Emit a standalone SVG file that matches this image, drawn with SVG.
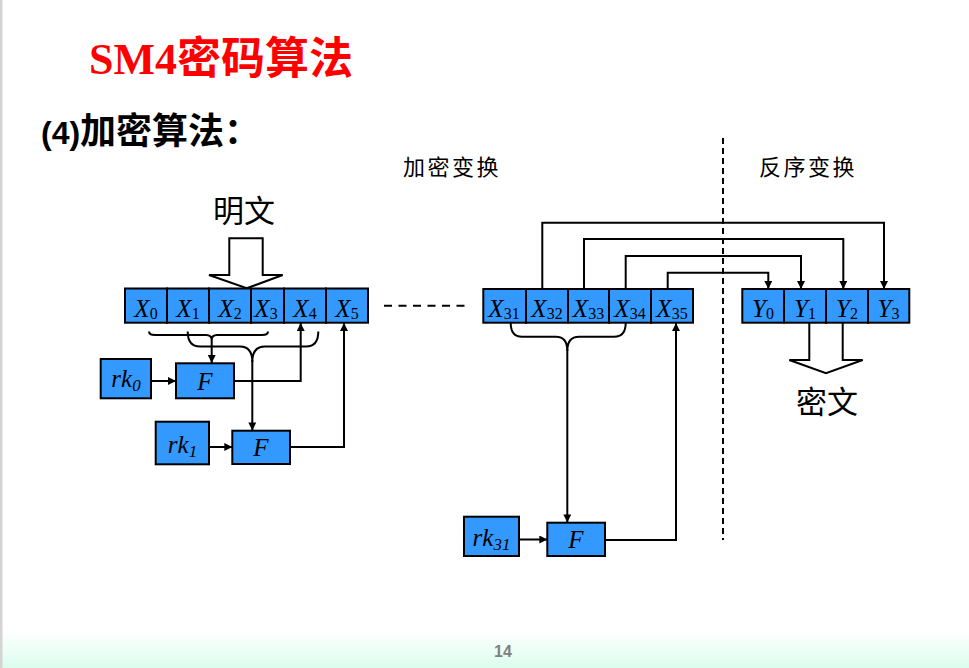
<svg xmlns="http://www.w3.org/2000/svg" width="969" height="668" viewBox="0 0 969 668">
<defs>
<linearGradient id="bg" x1="0" y1="0" x2="0" y2="1">
<stop offset="0" stop-color="#ffffff"/>
<stop offset="1" stop-color="#dcfdee"/>
</linearGradient>
<marker id="ah" viewBox="0 0 10 10" refX="10" refY="5" markerWidth="9" markerHeight="8" markerUnits="userSpaceOnUse" orient="auto">
<path d="M0,0 L10,5 L0,10 z" fill="#000"/>
</marker>
<style>
.cell{fill:#3399ff;stroke:#000;stroke-width:2}
.box{fill:#3399ff;stroke:#000;stroke-width:2}
.mt{font-family:"Liberation Serif",serif;font-style:italic;font-size:25px;fill:#000}
.sub{font-style:normal;font-size:16px}
.cn{font-family:"Noto Sans CJK SC","Noto Sans",sans-serif;fill:#000}
.ln{fill:none;stroke:#000;stroke-width:2}
.arr{fill:none;stroke:#000;stroke-width:2;marker-end:url(#ah)}
.hollow{fill:#fff;stroke:#000;stroke-width:2;stroke-linejoin:miter}
</style>
</defs>
<rect x="0" y="0" width="969" height="668" fill="#fff"/>
<rect x="0" y="630" width="969" height="38" fill="url(#bg)"/>
<rect x="0" y="0" width="2.5" height="668" fill="#d4d4d4"/>

<text x="89" y="74" font-family="Liberation Serif,'Noto Sans CJK SC',serif" font-weight="bold" font-size="44" fill="#ff0000">SM4密码算法</text>
<text x="41" y="144" font-family="Liberation Sans,'Noto Sans CJK SC',sans-serif" font-weight="bold" font-size="32" fill="#000">(4)<tspan font-size="36">加密算法：</tspan></text>
<text x="452" y="175" class="cn" font-size="22" letter-spacing="2.5" text-anchor="middle">加密变换</text>
<text x="808" y="175" class="cn" font-size="22" letter-spacing="2.5" text-anchor="middle">反序变换</text>

<line x1="723" y1="138" x2="723" y2="540" stroke="#000" stroke-width="2" stroke-dasharray="6 4"/>
<line x1="384" y1="305.7" x2="466" y2="305.7" stroke="#000" stroke-width="2" stroke-dasharray="8 6.5"/>

<g id="plaintext">
<text x="244" y="222" class="cn" font-size="31" text-anchor="middle">明文</text>
<polygon class="hollow" points="229.3,238.3 262.7,238.3 262.7,275 282.7,275 246.7,288.3 209,275 229.3,275"/>
</g>

<g id="ciphertext">
<path class="hollow" d="M809.3,322.7 V360 H789.3 L826,373.3 L862.7,360 H842.7 V322.7"/>
<text x="827" y="413" class="cn" font-size="31" text-anchor="middle">密文</text>
</g>

<g id="regX-left">
<rect class="cell" x="125" y="288.5" width="42" height="34.2"/>
<rect class="cell" x="167" y="288.5" width="42" height="34.2"/>
<rect class="cell" x="209" y="288.5" width="42" height="34.2"/>
<rect class="cell" x="251" y="288.5" width="33" height="34.2"/>
<rect class="cell" x="284" y="288.5" width="42" height="34.2"/>
<rect class="cell" x="326" y="288.5" width="42" height="34.2"/>
<text class="mt" x="146" y="317" text-anchor="middle">X<tspan class="sub" dy="2">0</tspan></text>
<text class="mt" x="188" y="317" text-anchor="middle">X<tspan class="sub" dy="2">1</tspan></text>
<text class="mt" x="230" y="317" text-anchor="middle">X<tspan class="sub" dy="2">2</tspan></text>
<text class="mt" x="266" y="317" text-anchor="middle">X<tspan class="sub" dy="2">3</tspan></text>
<text class="mt" x="305" y="317" text-anchor="middle">X<tspan class="sub" dy="2">4</tspan></text>
<text class="mt" x="347" y="317" text-anchor="middle">X<tspan class="sub" dy="2">5</tspan></text>
</g>

<g id="regX-right">
<rect class="cell" x="483.3" y="289" width="42.7" height="33.7"/>
<rect class="cell" x="526" y="289" width="42" height="33.7"/>
<rect class="cell" x="568" y="289" width="41" height="33.7"/>
<rect class="cell" x="609" y="289" width="42" height="33.7"/>
<rect class="cell" x="651" y="289" width="42" height="33.7"/>
<text class="mt" x="504" y="317" text-anchor="middle">X<tspan class="sub" dy="2">31</tspan></text>
<text class="mt" x="547" y="317" text-anchor="middle">X<tspan class="sub" dy="2">32</tspan></text>
<text class="mt" x="588.5" y="317" text-anchor="middle">X<tspan class="sub" dy="2">33</tspan></text>
<text class="mt" x="630" y="317" text-anchor="middle">X<tspan class="sub" dy="2">34</tspan></text>
<text class="mt" x="672" y="317" text-anchor="middle">X<tspan class="sub" dy="2">35</tspan></text>
</g>

<g id="regY">
<rect class="cell" x="742.3" y="289" width="41.7" height="33.7"/>
<rect class="cell" x="784" y="289" width="42" height="33.7"/>
<rect class="cell" x="826" y="289" width="42" height="33.7"/>
<rect class="cell" x="868" y="289" width="41.3" height="33.7"/>
<text class="mt" x="763" y="317" text-anchor="middle">Y<tspan class="sub" dy="2">0</tspan></text>
<text class="mt" x="805" y="317" text-anchor="middle">Y<tspan class="sub" dy="2">1</tspan></text>
<text class="mt" x="847" y="317" text-anchor="middle">Y<tspan class="sub" dy="2">2</tspan></text>
<text class="mt" x="888.5" y="317" text-anchor="middle">Y<tspan class="sub" dy="2">3</tspan></text>
</g>

<g id="rk0">
<rect class="box" x="100.7" y="359" width="50.3" height="39.3"/>
<text class="mt" x="126" y="387" text-anchor="middle" font-size="26">rk<tspan dy="4" font-size="17">0</tspan></text>
</g>
<g id="F1">
<rect class="box" x="176" y="363.3" width="58" height="35"/>
<text class="mt" x="205" y="390" text-anchor="middle" font-size="26">F</text>
</g>
<g id="rk1">
<rect class="box" x="155.7" y="421.7" width="53.3" height="42.6"/>
<text class="mt" x="182.5" y="453" text-anchor="middle" font-size="26">rk<tspan dy="4" font-size="17">1</tspan></text>
</g>
<g id="F2">
<rect class="box" x="232.3" y="430.7" width="57.7" height="33.3"/>
<text class="mt" x="261" y="456" text-anchor="middle" font-size="26">F</text>
</g>
<g id="rk31">
<rect class="box" x="464" y="516.7" width="55" height="39.3"/>
<text class="mt" x="491.5" y="546" text-anchor="middle" font-size="26">rk<tspan dy="4" font-size="17">31</tspan></text>
</g>
<g id="F3">
<rect class="box" x="547.3" y="522.7" width="57.7" height="33.3"/>
<text class="mt" x="576" y="548" text-anchor="middle" font-size="26">F</text>
</g>

<g id="connectors">
<path class="ln" d="M149,331.5 Q149,335 155,335 L206,335 Q211.7,335 211.7,340 Q211.7,335 217,335 L262,335 Q268,335 268,331.5"/>
<path class="ln" d="M187.7,331.5 Q187.7,346.5 200,346.5 L240,346.5 Q252.3,346.5 252.3,362 Q252.3,346.5 265,346.5 L306,346.5 Q318.3,346.5 318.3,331.5"/>
<path class="ln" d="M510.7,323 Q510.7,336.7 522,336.7 L556,336.7 Q567.3,336.7 567.3,351 Q567.3,336.7 579,336.7 L614,336.7 Q625.7,336.7 625.7,323"/>
<path class="arr" d="M211.7,340 V363"/>
<path class="arr" d="M252.3,360 V430.5"/>
<path class="arr" d="M151,381 H176"/>
<path class="arr" d="M234,381 H300.7 V323"/>
<path class="arr" d="M209,447 H232.3"/>
<path class="arr" d="M290,447 H344 V323"/>
<path class="arr" d="M567.3,349 V522.5"/>
<path class="arr" d="M519,539.5 H547.3"/>
<path class="arr" d="M605,540 H676 V323"/>
<path class="arr" d="M542.3,289 V222.7 H884 V289"/>
<path class="arr" d="M584,289 V239 H843.3 V289"/>
<path class="arr" d="M625.7,289 V256 H801 V289"/>
<path class="arr" d="M667.7,289 V272.7 H768.3 V289"/>
</g>

<text x="503" y="657" font-family="Liberation Sans,sans-serif" font-weight="bold" font-size="16" fill="#808080" text-anchor="middle">14</text>
</svg>
